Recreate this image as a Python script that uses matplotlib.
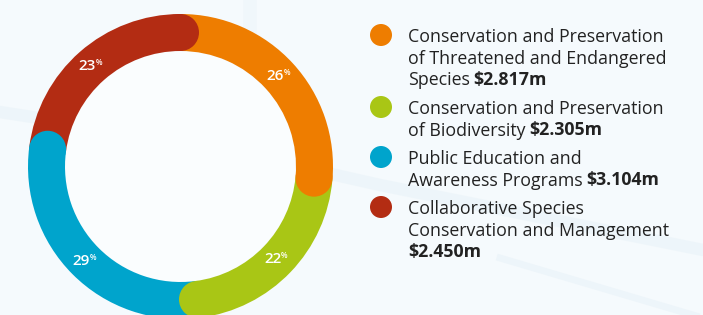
import numpy as np
import matplotlib
matplotlib.use("Agg")
import matplotlib.pyplot as plt
from matplotlib.patches import Wedge, Circle

# data
categories = [
  ["Conservation and Preservation", "of Threatened and Endangered", "Species"],
  ["Conservation and Preservation", "of Biodiversity"],
  ["Public Education and", "Awareness Programs"],
  ["Collaborative Species", "Conservation and Management", ""],
]
amounts = [2.817, 2.305, 3.104, 2.450]
amount_labels = ["$2.817m", "$2.305m", "$3.104m", "$2.450m"]
pct_labels = ["26", "22", "29", "23"]
colors = ["#ee7d00", "#a9c615", "#00a4cc", "#b32c13"]

W, H = 703, 315
BG = "#f5fafd"
TXT = "#222222"


def main():
  plt.rcParams['font.family'] = ['Open Sans', 'DejaVu Sans']
  fig = plt.figure(figsize=(W / 100, H / 100), dpi=100, facecolor=BG)
  ax = fig.add_axes([0, 0, 1, 1])
  ax.set_xlim(0, W)
  ax.set_ylim(H, 0)
  ax.set_aspect('equal')
  ax.axis('off')
  ax.set_facecolor(BG)

  # faint background streaks
  ax.plot([0, 180, 380, 703], [112, 140, 185, 250], color="#ebf4f9", lw=9, alpha=0.7, zorder=0, solid_capstyle='round')
  ax.plot([500, 703], [258, 318], color="#eaf3f9", lw=5, alpha=0.7, zorder=0)
  ax.plot([250, 250], [0, 160], color="#eef6fa", lw=10, alpha=0.6, zorder=0)

  cx, cy = 180.5, 166.5
  r_out, width = 152.5, 37
  r_mid = r_out - width / 2

  ax.add_patch(Circle((cx, cy), r_out - width, facecolor="#fafdfe", edgecolor='none', zorder=0.5))

  total = sum(amounts)
  # y axis is flipped, so counter-clockwise in data is clockwise on screen
  start = -90.0
  ends = []
  for val, col, pct in zip(amounts, colors, pct_labels):
    sweep = 360.0 * val / total
    end = start + sweep
    ax.add_patch(Wedge((cx, cy), r_out, start, end, width=width,
                       facecolor=col, edgecolor='none', zorder=1))
    ends.append((end, col))
    mid = np.radians((start + end) / 2)
    tx = cx + r_mid * np.cos(mid)
    ty = cy + r_mid * np.sin(mid)
    ax.text(tx + 4, ty, pct, color='white', fontsize=11, fontweight='semibold',
            ha='right', va='center', zorder=3)
    ax.text(tx + 4, ty - 3.5, "%", color='white', fontsize=5.5, fontweight='semibold',
            ha='left', va='center', zorder=3)
    start = end

  # rounded ends
  for end, col in ends:
    a = np.radians(end)
    ax.add_patch(Circle((cx + r_mid * np.cos(a), cy + r_mid * np.sin(a)), width / 2,
                        facecolor=col, edgecolor='none', zorder=2))

  # legend
  marker_y = [35, 107, 157, 207]
  first_base = [42, 114, 164, 214]
  line_h = 21.5
  fs = 12.8
  for lines, amt, col, my, y0 in zip(categories, amount_labels, colors, marker_y, first_base):
    ax.add_patch(Circle((381, my), 11, facecolor=col, edgecolor='none', zorder=2))
    t = None
    for i, line in enumerate(lines):
      y = y0 + i * line_h
      t = ax.text(408, y, line, color=TXT, fontsize=fs, ha='left', va='baseline')
    if lines[-1]:
      ax.annotate(amt, xy=(1, y), xycoords=(t, 'data'), xytext=(2.5, 0),
                  textcoords='offset points', color=TXT, fontsize=fs,
                  fontweight='bold', ha='left', va='baseline')
    else:
      ax.text(408, y, amt, color=TXT, fontsize=fs, fontweight='bold', ha='left', va='baseline')

  fig.savefig("out.png", dpi=100, facecolor=BG)


if __name__ == "__main__":
  main()
